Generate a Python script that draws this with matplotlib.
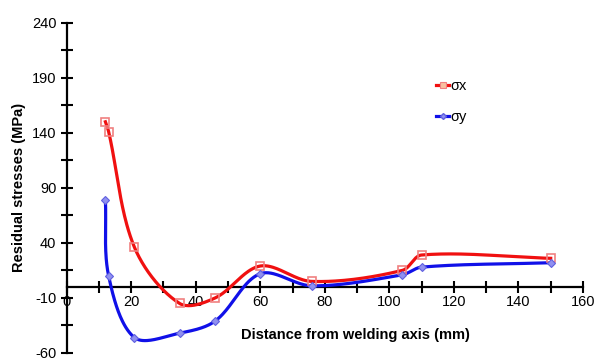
import numpy as np
import matplotlib.pyplot as plt
from matplotlib.ticker import MultipleLocator, FixedLocator

# distance from welding axis (mm)
x_sx = [12, 13, 21, 35, 46, 60, 76, 104, 110, 150]
sx = [150, 141, 36, -15, -10, 19, 5, 15, 29, 26]

x_sy = [12, 13, 21, 35, 46, 60, 76, 104, 110, 150]
sy = [79, 10, -46, -42, -31, 12, 1, 11, 18, 22]

# rough pixel scale of the axes, used to weight the smoothing
SX, SY = 3.225, 1.1


def smooth(xs, ys, n=40):
    # excel-like smoothed line (cubic bezier, tangents weighted by segment length)
    p = np.column_stack([xs, ys]).astype(float)
    p = np.vstack([p[0], p, p[-1]])
    out = []
    t = np.linspace(0, 1, n)[:, None]

    def L(a, b):
        return np.hypot((b[0] - a[0]) * SX, (b[1] - a[1]) * SY) + 1e-9

    for i in range(1, len(p) - 2):
        p0, p1, p2, p3 = p[i - 1], p[i], p[i + 1], p[i + 2]
        l01, l12, l23 = L(p0, p1), L(p1, p2), L(p2, p3)
        c1 = p1 + (p2 - p0) * (l12 / (l01 + l12)) / 3
        c2 = p2 - (p3 - p1) * (l12 / (l12 + l23)) / 3
        seg = (1 - t) ** 3 * p1 + 3 * (1 - t) ** 2 * t * c1 + 3 * (1 - t) * t ** 2 * c2 + t ** 3 * p2
        out.append(seg)
    out = np.vstack(out)
    return out[:, 0], out[:, 1]


plt.rcParams['font.family'] = ['Liberation Sans', 'DejaVu Sans']
plt.rcParams['axes.unicode_minus'] = False

fig = plt.figure(figsize=(5.97, 3.61), dpi=100)
ax = fig.add_axes([0.1117, 0.0222, 0.8648, 0.9149])

red = '#f01010'
blue = '#1010e8'

xs, ys = smooth(x_sx, sx)
ax.plot(xs, ys, color=red, lw=2.3, zorder=3)
ax.plot(x_sx, sx, ls='none', marker='s', ms=6, mfc='none', mec='#f08080', mew=1.2, zorder=4)
ax.plot([], [], color=red, lw=2.3, marker='s', ms=5, mfc='#f8c0a0', mec='#f08080', mew=0.8, label='σx')

xs, ys = smooth(x_sy, sy)
ax.plot(xs, ys, color=blue, lw=2.3, zorder=3)
ax.plot(x_sy, sy, ls='none', marker='D', ms=4, mfc='#9090f0', mec='#6060e0', mew=0.8, zorder=4)
ax.plot([], [], color=blue, lw=2.3, marker='D', ms=3, mfc='#9090f0', mec='#6060e0', label='σy')

ax.set_xlim(0, 160)
ax.set_ylim(-60, 240)

ax.spines['top'].set_visible(False)
ax.spines['right'].set_visible(False)
ax.spines['bottom'].set_position(('data', 0))
ax.spines['left'].set_position(('data', 0))
ax.spines['bottom'].set_linewidth(1.6)
ax.spines['left'].set_linewidth(1.6)

ax.xaxis.set_major_locator(MultipleLocator(20))
ax.xaxis.set_minor_locator(MultipleLocator(10))
ax.yaxis.set_major_locator(FixedLocator(np.arange(-60, 241, 50)))
ax.yaxis.set_minor_locator(FixedLocator(np.arange(-60, 241, 25)))
ax.tick_params(which='both', direction='inout', width=1.5, labelsize=10.5, colors='black')
ax.tick_params(which='major', length=8)
ax.tick_params(which='minor', length=8)
ax.tick_params(axis='x', pad=2)

ax.set_ylabel('Residual stresses (MPa)', fontsize=10.5, fontweight='bold')
ax.yaxis.set_label_coords(-0.078, 0.5)
ax.set_xlabel('Distance from welding axis (mm)', fontsize=10.5, fontweight='bold')
ax.xaxis.set_label_coords(0.56, 0.075)

ax.legend(loc='upper left', bbox_to_anchor=(0.69, 0.87), frameon=False,
          handlelength=0.9, handletextpad=0.1, labelspacing=1.2, fontsize=10.5)

fig.savefig('out.png', dpi=100)
